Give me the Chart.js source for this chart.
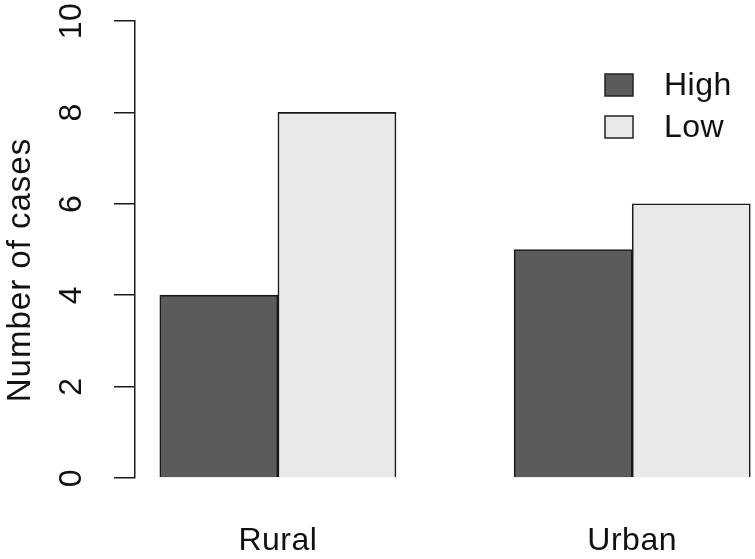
<!DOCTYPE html>
<html>
<head>
<meta charset="utf-8">
<script src="https://cdn.jsdelivr.net/npm/chart.js@4.4.0/dist/chart.umd.min.js"></script>
<style>
  html, body { margin: 0; padding: 0; background: #fff; }
  #wrap { width: 755px; height: 559px; }
</style>
</head>
<body>
<div id="wrap"><canvas id="mycanvas"></canvas></div>
<script>
var categories = ['Rural', 'Urban'];
var seriesNames = ['High', 'Low'];
var highCases = [4, 5];
var lowCases = [8, 6];
var yTicks = [0, 2, 4, 6, 8, 10];
var yTitle = 'Number of cases';

// R barplot layout: bars 1 unit wide, 1 unit space before each group
var groupCenters = [];
var highPoints = [];
var lowPoints = [];
for (var i = 0; i < categories.length; i++) {
  var start = 1 + i * 3;
  groupCenters.push(start + 1);
  highPoints.push({x: start + 0.5, y: highCases[i]});
  lowPoints.push({x: start + 1.5, y: lowCases[i]});
}

var fontName = '"Liberation Sans", Arial, sans-serif';
var textColor = '#111';

var spacing = {
  id: 'spacing',
  beforeLayout: function(chart) { chart.ctx.letterSpacing = '0.5px'; },
  beforeDraw: function(chart) { chart.ctx.letterSpacing = '0.5px'; }
};

var extras = {
  id: 'extras',
  afterDraw: function(chart) {
    var ctx = chart.ctx;
    ctx.save();
    // y title
    ctx.letterSpacing = '1px';
    ctx.fillStyle = textColor;
    ctx.font = '33px ' + fontName;
    ctx.textAlign = 'center';
    ctx.textBaseline = 'middle';
    ctx.translate(21, 270);
    ctx.rotate(-Math.PI / 2);
    ctx.fillText(yTitle, 0, 0);
    ctx.restore();

    // legend
    ctx.save();
    ctx.letterSpacing = '0.5px';
    ctx.font = '32px ' + fontName;
    ctx.textBaseline = 'middle';
    ctx.textAlign = 'left';
    chart.data.datasets.forEach(function(ds, k) {
      var cy = 85 + k * 42;
      ctx.fillStyle = ds.backgroundColor;
      ctx.strokeStyle = '#222';
      ctx.lineWidth = 1.5;
      ctx.fillRect(605, cy - 11, 28, 22);
      ctx.strokeRect(605, cy - 11, 28, 22);
      ctx.fillStyle = textColor;
      ctx.fillText(ds.label, 664, cy + 1);
    });
    ctx.restore();
  }
};

var chartdata = {
  datasets: [
    {
      label: seriesNames[0],
      data: highPoints,
      backgroundColor: '#5b5b5b',
      borderColor: '#1a1a1a',
      borderWidth: 1.6
    },
    {
      label: seriesNames[1],
      data: lowPoints,
      backgroundColor: '#e9e9e9',
      borderColor: '#1a1a1a',
      borderWidth: 1.6
    }
  ]
};

var ctx = document.getElementById('mycanvas');
var BarGraph = new Chart(ctx, {
  type: 'bar',
  data: chartdata,
  plugins: [spacing, extras],
  options: {
    responsive: true,
    maintainAspectRatio: false,
    animation: false,
    grouped: false,
    barPercentage: 1,
    categoryPercentage: 1,
    layout: { padding: { top: 21, left: 0, right: 0, bottom: 0 } },
    plugins: {
      legend: { display: false },
      tooltip: { enabled: false }
    },
    scales: {
      x: {
        type: 'linear',
        offset: false,
        min: 0.79,
        max: 6.04,
        afterBuildTicks: function(scale) {
          scale.ticks = groupCenters.map(function(v) { return {value: v}; });
        },
        afterFit: function(scale) {
          scale.height = 81;
          scale.paddingLeft = 0;
          scale.paddingRight = 0;
        },
        grid: { display: false },
        border: { display: false },
        ticks: {
          padding: 36,
          color: textColor,
          font: { family: fontName, size: 32 },
          callback: function(value) { return categories[groupCenters.indexOf(value)]; }
        }
      },
      y: {
        min: 0,
        max: 10,
        afterBuildTicks: function(scale) {
          scale.ticks = yTicks.map(function(v) { return {value: v}; });
        },
        afterFit: function(scale) {
          scale.width = 135;
          scale.paddingTop = 0;
          scale.paddingBottom = 0;
        },
        border: { display: true, color: '#1a1a1a', width: 1.5 },
        grid: {
          drawOnChartArea: false,
          drawTicks: true,
          tickLength: 21,
          color: '#1a1a1a',
          lineWidth: 1.5
        },
        ticks: {
          minRotation: 90,
          maxRotation: 90,
          crossAlign: 'center',
          padding: 24,
          color: textColor,
          font: { family: fontName, size: 32 }
        }
      }
    }
  }
});
</script>
</body>
</html>
